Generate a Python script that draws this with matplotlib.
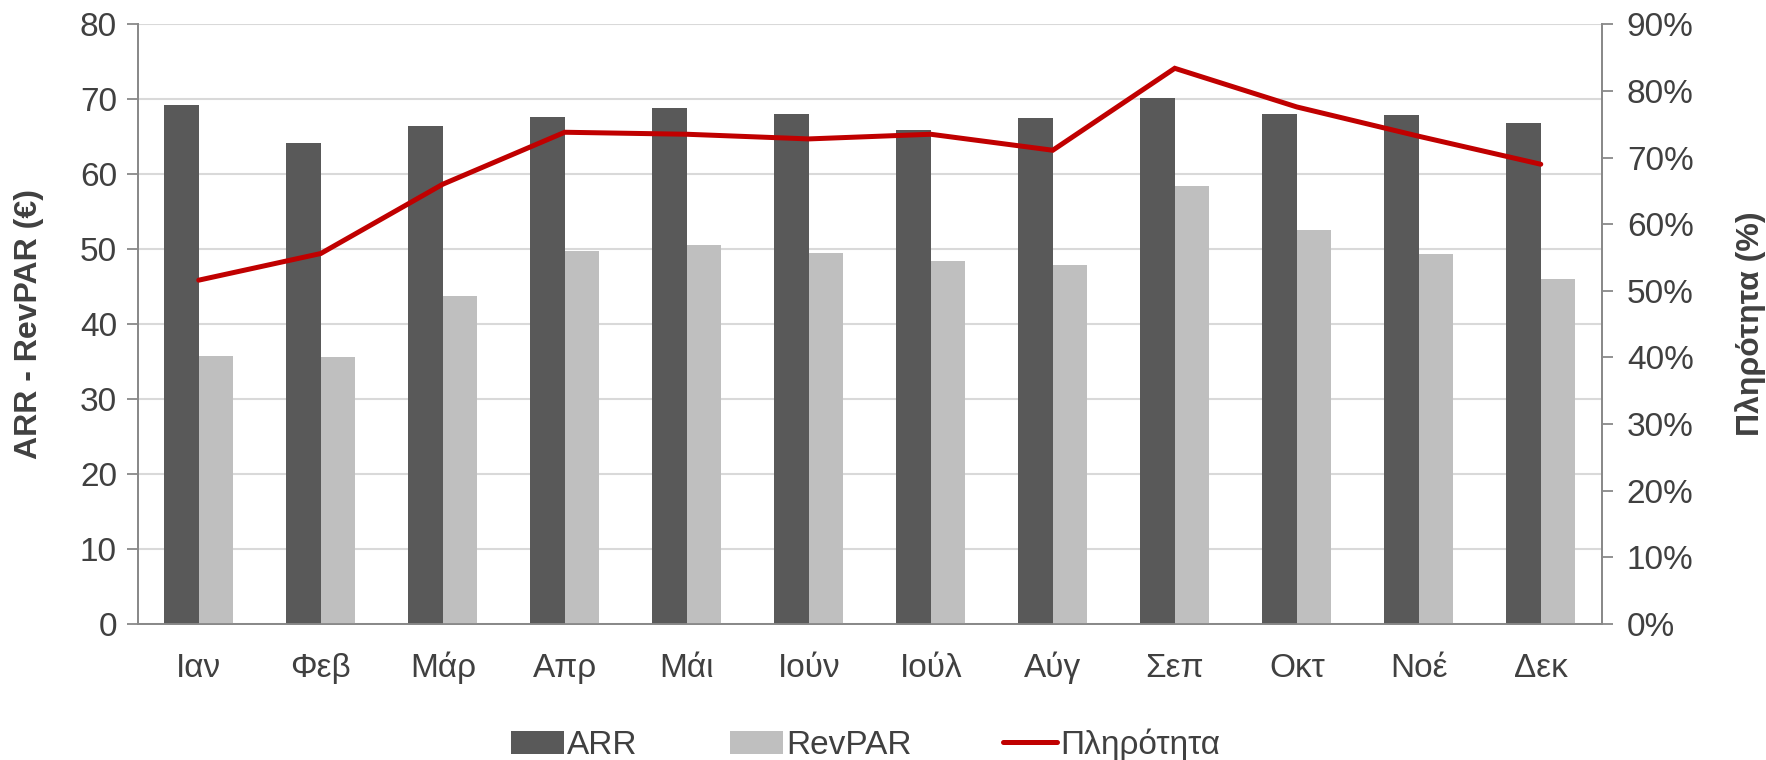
import matplotlib
matplotlib.use("Agg")
import matplotlib.pyplot as plt
import numpy as np
from matplotlib.ticker import FuncFormatter

plt.rcParams['font.family'] = ['Liberation Sans', 'DejaVu Sans']

# data
months = ['Ιαν', 'Φεβ', 'Μάρ', 'Απρ', 'Μάι', 'Ιούν', 'Ιούλ', 'Αύγ', 'Σεπ', 'Οκτ', 'Νοέ', 'Δεκ']
arr = [69.3, 64.2, 66.4, 67.6, 68.9, 68.1, 65.9, 67.5, 70.2, 68.0, 67.9, 66.9]
revpar = [35.7, 35.6, 43.8, 49.8, 50.5, 49.5, 48.4, 47.9, 58.4, 52.6, 49.4, 46.0]
occupancy = [51.6, 55.6, 66.0, 73.8, 73.5, 72.8, 73.5, 71.1, 83.4, 77.6, 73.2, 69.0]

text_col = '#404040'
spine_col = '#898989'

fig = plt.figure(figsize=(17.66, 7.6), dpi=100)
ax = fig.add_axes([0.078, 0.179, 0.829, 0.789])
ax2 = ax.twinx()

x = np.arange(len(months))
w = 0.284
b1 = ax.bar(x - w / 2, arr, w, color='#595959', label='ARR', zorder=3)
b2 = ax.bar(x + w / 2, revpar, w, color='#bfbfbf', label='RevPAR', zorder=3)
l1, = ax2.plot(x, occupancy, color='#c00000', lw=3.6, label='Πληρότητα',
               solid_capstyle='round', solid_joinstyle='miter')

ax.set_xlim(-0.5, len(months) - 0.5)
ax.set_ylim(0, 80)
ax.set_yticks(range(0, 81, 10))
ax2.set_ylim(0, 90)
ax2.set_yticks(range(0, 91, 10))
ax2.yaxis.set_major_formatter(FuncFormatter(lambda v, p: f'{v:.0f}%'))

ax.grid(axis='y', color='#d9d9d9', lw=1.5, zorder=0)
ax.set_axisbelow(True)

ax.set_xticks(x)
ax.set_xticklabels(months, va='baseline')
ax.tick_params(axis='x', length=0, pad=38, labelsize=24, labelcolor=text_col)
ax.tick_params(axis='y', length=8, width=1.3, color=spine_col, labelsize=24,
               labelcolor=text_col, pad=7)
ax2.tick_params(axis='y', length=8, width=1.3, color=spine_col, labelsize=24,
                labelcolor=text_col, pad=10)

for a in (ax, ax2):
    a.spines['top'].set_visible(False)
    for s in ('left', 'right', 'bottom'):
        a.spines[s].set_color(spine_col)
        a.spines[s].set_linewidth(1.3)

ax.set_ylabel('ARR - RevPAR (€)', fontsize=23, fontweight='bold', color=text_col)
ax2.set_ylabel('Πληρότητα (%)', fontsize=23, fontweight='bold', color=text_col)
ax.yaxis.set_label_coords(-0.064, 0.5)
ax2.yaxis.set_label_coords(1.091, 0.5)

fig.legend([b1, b2, l1], ['ARR', 'RevPAR', 'Πληρότητα'], loc='center',
           bbox_to_anchor=(0.49, 0.02), ncol=3, frameon=False, fontsize=24,
           handlelength=1.6, handletextpad=0.1, columnspacing=2.75,
           labelcolor=text_col)

fig.savefig('out.png', dpi=100)
